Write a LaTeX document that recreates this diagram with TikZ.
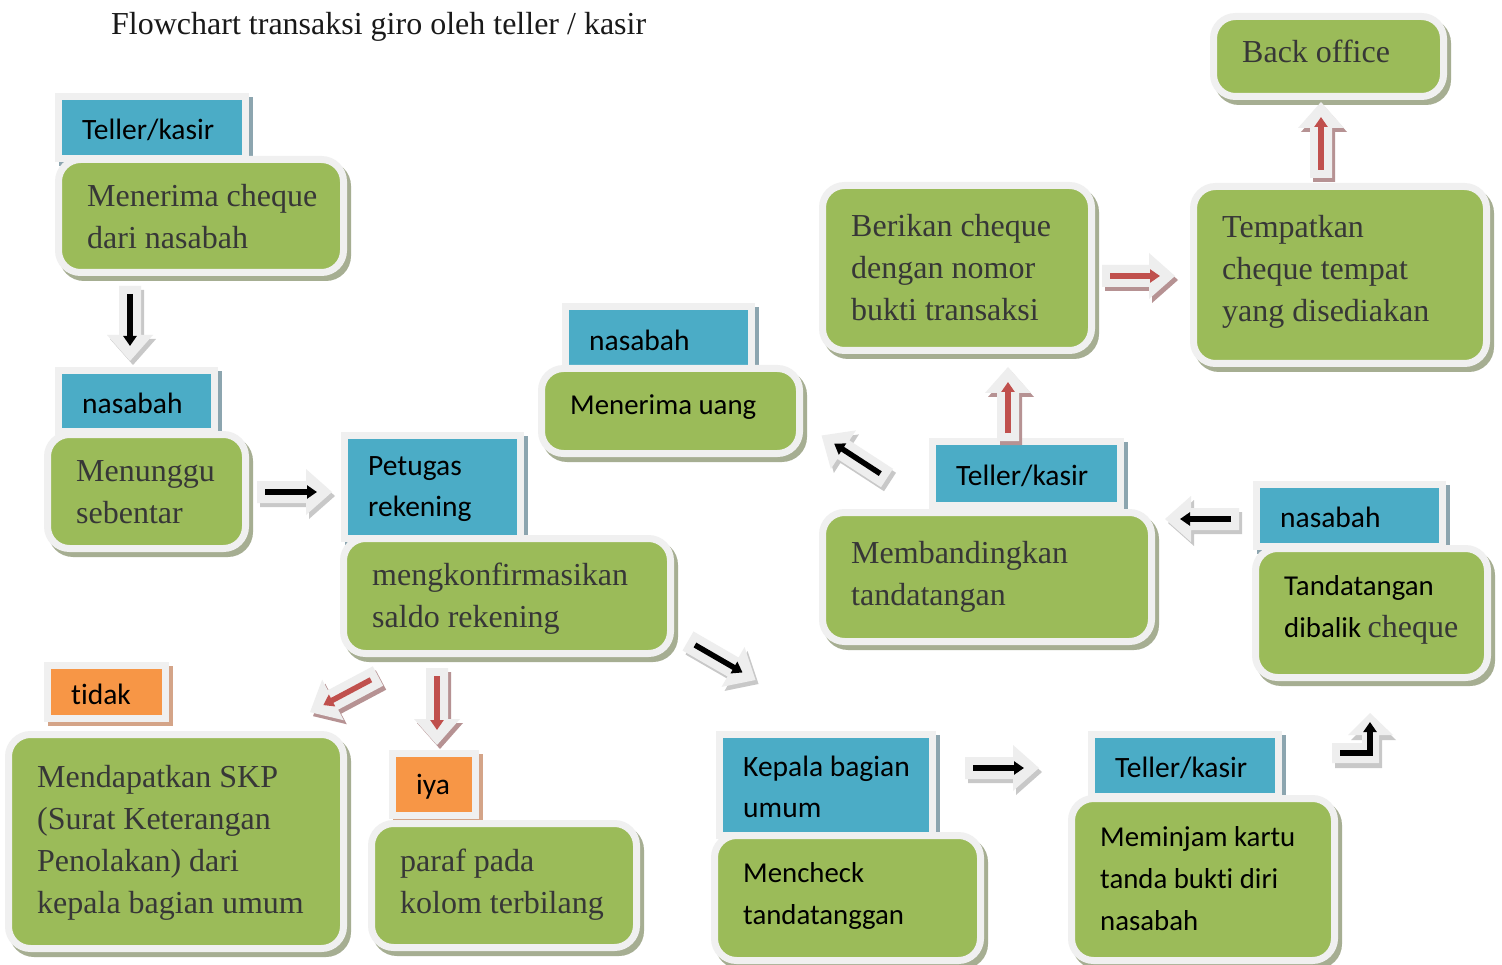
\documentclass[tikz,border=0pt]{standalone}
\usepackage{fontspec}
\setmainfont{Liberation Serif}
\newfontfamily\carl[Ligatures=NoCommon]{Carlito}
\usetikzlibrary{arrows.meta}
\definecolor{gfill}{RGB}{155,187,89}
\definecolor{bfill}{RGB}{75,172,198}
\definecolor{ofill}{RGB}{247,150,70}
\definecolor{bord}{RGB}{240,240,240}
\definecolor{gshad}{RGB}{166,174,146}
\definecolor{bshad}{RGB}{140,165,175}
\definecolor{oshad}{RGB}{212,164,136}
\definecolor{txt}{RGB}{55,55,55}
\definecolor{redl}{RGB}{192,80,77}
\definecolor{agrey}{RGB}{238,238,238}
\definecolor{kshad}{RGB}{200,200,200}
\definecolor{rshad}{RGB}{182,146,147}
\tikzset{
  gbox/.style={draw=bord, fill=gfill, line width=7pt, rounded corners=22pt, inner sep=0pt, anchor=center},
  lbox/.style={draw=bord, line width=7pt, inner sep=0pt, anchor=center},
  boxtext/.style={anchor=west, align=left, inner sep=0pt},
  serif/.style={font=\fontsize{32}{42}\selectfont, text=txt},
  sans/.style={font=\carl\fontsize{28.8}{42}\selectfont, text=black},
  lsans/.style={font=\carl\fontsize{29.5}{41}\selectfont, text=black},
  arrowbody/.style={fill=agrey},
  innerline/.style={line width=5.5pt, -{Triangle[width=13pt,length=10pt]}},
}
% green box: name, x1,y1,x2,y2 (green area), text style, text dy, text
\newcommand\gbx[8]{%
  \fill[gshad, rounded corners=25pt] ({#2-7+4},{#3-7+5}) rectangle ({#4+7+4},{#5+7+5});
  \pgfmathsetmacro\bw{#4-#2+7}\pgfmathsetmacro\bh{#5-#3+7}%
  \node[gbox, minimum width=\bw pt, minimum height=\bh pt] (#1) at ({(#2+#4)/2},{(#3+#5)/2}) {};
  \node[boxtext, #6] (#1t) at ({#2+25},{(#3+#5)/2+#7}) {#8};
}
% label box: name, x1,y1,x2,y2, fill, shadow, text
\newcommand\lbx[8]{%
  \fill[#7] ({#2-7+4},{#3-7+4}) rectangle ({#4+7+4},{#5+7+4});
  \pgfmathsetmacro\bw{#4-#2+7}\pgfmathsetmacro\bh{#5-#3+7}%
  \node[lbox, fill=#6, minimum width=\bw pt, minimum height=\bh pt] (#1) at ({(#2+#4)/2},{(#3+#5)/2}) {};
  \node[boxtext, lsans] (#1t) at ({#2+20},{(#3+#5)/2+2}) {#8};
}
% fat arrow: tail coordinate, angle, length, line colour, shadow colour
\newcommand\fatarrow[5]{%
  \begin{scope}[shift={(#1)}, xshift=3pt, yshift=-4pt, rotate=#2]
    \fill[#5] (0,-11) -- ({#3-26},-11) -- ({#3-26},-23) -- (#3,0) -- ({#3-26},23) -- ({#3-26},11) -- (0,11) -- cycle;
  \end{scope}
  \begin{scope}[shift={(#1)}, rotate=#2]
    \fill[arrowbody] (0,-11) -- ({#3-26},-11) -- ({#3-26},-23) -- (#3,0) -- ({#3-26},23) -- ({#3-26},11) -- (0,11) -- cycle;
    \draw[#4, innerline] (8,0) -- ({#3-15},0);
  \end{scope}
}
\begin{document}
\begin{tikzpicture}[x=1pt, y=-1pt]
\useasboundingbox (0,0) rectangle (1502,965);
\fill[white] (0,0) rectangle (1502,965);

\node[anchor=base west, inner sep=0pt, font=\fontsize{32}{38}\selectfont, text=black!90] (title) at (111,35) {Flowchart transaksi giro oleh teller / kasir};

% label boxes
\lbx{l1}{62}{100}{242}{155}{bfill}{bshad}{Teller/kasir}
\lbx{l2}{62}{374}{211}{428}{bfill}{bshad}{nasabah}
\lbx{l3}{569}{310}{748}{366}{bfill}{bshad}{nasabah}
\lbx{l4}{348}{439}{517}{535}{bfill}{bshad}{Petugas\\rekening}
\lbx{l5}{936}{445}{1117}{502}{bfill}{bshad}{Teller/kasir}
\lbx{l6}{1260}{488}{1439}{543}{bfill}{bshad}{nasabah}
\lbx{l7}{723}{738}{929}{832}{bfill}{bshad}{Kepala bagian\\umum}
\lbx{l8}{1095}{738}{1275}{793}{bfill}{bshad}{Teller/kasir}
\lbx{l9}{51}{669}{162}{715}{ofill}{oshad}{tidak}
\lbx{l10}{396}{757}{472}{812}{ofill}{oshad}{iya}

% green boxes
\gbx{b1}{62}{163}{340}{269}{serif}{1}{Menerima cheque\\dari nasabah}
\gbx{b2}{51}{438}{242}{545}{serif}{1}{Menunggu\\sebentar}
\gbx{b3}{347}{542}{667}{650}{serif}{3}{mengkonfirmasikan\\saldo rekening}
\gbx{b4}{545}{372}{796}{450}{sans}{-4}{Menerima uang}
\gbx{b5}{826}{189}{1088}{347}{serif}{0}{Berikan cheque\\dengan nomor\\bukti transaksi}
\gbx{b6}{1197}{190}{1483}{360}{serif}{-3}{Tempatkan\\cheque tempat\\yang disediakan}
\gbx{b7}{1217}{20}{1440}{93}{serif}{-5}{Back office}
\gbx{b8}{826}{516}{1148}{638}{serif}{0}{Membandingkan\\tandatangan}
\gbx{b9}{1259}{552}{1484}{674}{sans}{-3}{Tandatangan\\dibalik {\rmfamily\fontsize{32}{42}\selectfont\color{txt}cheque}}
\gbx{b10}{12}{738}{340}{945}{serif}{1}{Mendapatkan SKP\\(Surat Keterangan\\Penolakan) dari\\kepala bagian umum}
\gbx{b11}{375}{827}{633}{944}{serif}{-1}{paraf pada\\kolom terbilang}
\gbx{b12}{718}{839}{977}{957}{sans}{-2}{Mencheck\\tandatanggan}
\gbx{b13}{1075}{802}{1331}{957}{sans}{-1}{Meminjam kartu\\tanda bukti diri\\nasabah}

% arrows
\coordinate (a1) at (130,286);
\coordinate (a2) at (257,492);
\coordinate (a3) at (378,676);
\coordinate (a4) at (437,668);
\coordinate (a5) at (688,641);
\coordinate (a6) at (965,768);
\coordinate (a7) at (1332,713);
\coordinate (a8) at (1239,519);
\coordinate (a9) at (887,478);
\coordinate (a10) at (1008,441);
\coordinate (a11) at (1102,276);
\coordinate (a12) at (1321,178);
\fatarrow{a1}{-90}{75}{black}{kshad}
\fatarrow{a2}{0}{75}{black}{kshad}
\fatarrow{a3}{208}{77}{redl}{rshad}
\fatarrow{a4}{-90}{77}{redl}{rshad}
\fatarrow{a5}{-30}{78}{black}{kshad}
\fatarrow{a6}{0}{74}{black}{kshad}
\fatarrow{a8}{180}{74}{black}{kshad}
\fatarrow{a9}{147}{78}{black}{kshad}
\fatarrow{a10}{90}{74}{redl}{rshad}
\fatarrow{a11}{0}{73}{redl}{rshad}
\fatarrow{a12}{90}{76}{redl}{rshad}
% bent arrow
\begin{scope}[shift={(a7)}, xshift=3pt, yshift=-5pt]
  \fill[kshad] (0,30) -- (30,30) -- (30,22) -- (16,22) -- (38,0) -- (61,22) -- (47,22) -- (47,50) -- (0,50) -- cycle;
\end{scope}
\begin{scope}[shift={(a7)}]
  \fill[arrowbody] (0,30) -- (30,30) -- (30,22) -- (16,22) -- (38,0) -- (61,22) -- (47,22) -- (47,50) -- (0,50) -- cycle;
  \draw[black, innerline] (8,40) -- (38,40) -- (38,9);
\end{scope}
\end{tikzpicture}
\end{document}
